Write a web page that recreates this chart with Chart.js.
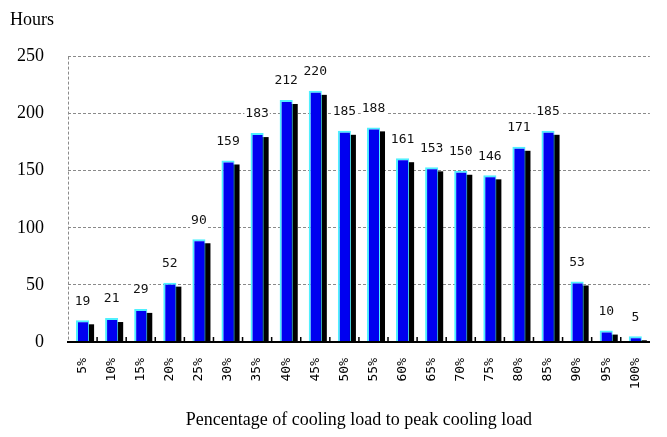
<!DOCTYPE html>
<html>
<head>
<meta charset="utf-8">
<script src="https://cdn.jsdelivr.net/npm/chart.js@4.4.1/dist/chart.umd.min.js"></script>
<style>
  html, body { margin: 0; padding: 0; background: #fff; }
  #wrap { width: 667px; height: 437px; }
</style>
</head>
<body>
<div id="wrap"><canvas id="chart-hours"></canvas></div>
<script>
const categories = ["5%", "10%", "15%", "20%", "25%", "30%", "35%", "40%", "45%", "50%",
                    "55%", "60%", "65%", "70%", "75%", "80%", "85%", "90%", "95%", "100%"];
const hours = [19, 21, 29, 52, 90, 159, 183, 212, 220, 185,
               188, 161, 153, 150, 146, 171, 185, 53, 10, 5];
const yTicks = [0, 50, 100, 150, 200, 250];

const SERIF = "'Liberation Serif', 'Times New Roman', serif";
const MONO = "'DejaVu Sans Mono', 'Liberation Mono', monospace";
const GRID = "#8a8a8a";
const SHADOW_DX = 5;
const SHADOW_DY = 4;

// ─── Plugins ──────────────────────────────────────────────────────────────────

// black block offset behind each bar (BarElement clips its own canvas shadow)
const barShadow = {
  id: "barShadow",
  beforeDatasetsDraw(chart) {
    const ctx = chart.ctx;
    const meta = chart.getDatasetMeta(0);
    ctx.save();
    ctx.fillStyle = "#000";
    meta.data.forEach((bar) => {
      const { x, y, width, base } = bar.getProps(["x", "y", "width", "base"]);
      const top = y + SHADOW_DY;
      if (base - top > 0) {
        ctx.fillRect(x - width / 2 + SHADOW_DX, top, width, base - top);
      }
    });
    ctx.restore();
  },
};

// value above each bar, on a white patch so the grid doesn't run through it
const valueLabels = {
  id: "valueLabels",
  afterDatasetsDraw(chart) {
    const ctx = chart.ctx;
    const meta = chart.getDatasetMeta(0);
    ctx.save();
    ctx.font = "13px " + MONO;
    ctx.textAlign = "center";
    ctx.textBaseline = "middle";
    meta.data.forEach((bar, i) => {
      const text = String(hours[i]);
      const w = ctx.measureText(text).width;
      const y = bar.y - 19;
      ctx.fillStyle = "#fff";
      ctx.fillRect(bar.x - w / 2 - 1, y - 8, w + 2, 16);
      ctx.fillStyle = "#111";
      ctx.fillText(text, bar.x, y);
    });
    ctx.restore();
  },
};

// short inward ticks on the x axis between categories
const innerTicks = {
  id: "innerTicks",
  afterDraw(chart) {
    const { ctx, chartArea } = chart;
    const x = chart.scales.x;
    ctx.save();
    ctx.strokeStyle = "#000";
    ctx.lineWidth = 1.5;
    ctx.beginPath();
    for (let i = 1; i < categories.length; i++) {
      const px = (x.getPixelForValue(i - 1) + x.getPixelForValue(i)) / 2;
      ctx.moveTo(px, chartArea.bottom);
      ctx.lineTo(px, chartArea.bottom - 5);
    }
    ctx.stroke();
    ctx.restore();
  },
};

// ─── Chart ────────────────────────────────────────────────────────────────────

new Chart(document.getElementById("chart-hours").getContext("2d"), {
  type: "bar",
  data: {
    labels: categories,
    datasets: [{
      data: hours,
      backgroundColor: "#0000f0",
      borderColor: "#4ff0ff",
      borderWidth: { top: 2, left: 2, right: 1, bottom: 0 },
      borderSkipped: false,
      categoryPercentage: 1,
      barPercentage: 0.45,
    }],
  },
  options: {
    responsive: true,
    maintainAspectRatio: false,
    animation: false,
    layout: { padding: { left: 10, right: 4, top: 0, bottom: 0 } },
    plugins: {
      legend: { display: false },
      tooltip: { enabled: false },
      title: {
        display: true,
        text: "Hours",
        align: "start",
        color: "#000",
        font: { family: SERIF, size: 18, weight: "normal" },
        padding: { top: 9, bottom: 26 },
      },
    },
    scales: {
      x: {
        offset: true,
        afterFit: (scale) => { scale.height = 95; },
        grid: {
          offset: true,
          drawTicks: false,
          color: (c) => (c.index === 0 ? GRID : "rgba(0,0,0,0)"),
        },
        border: { display: true, color: "#000", width: 2, dash: [3, 2], z: 1 },
        ticks: {
          color: "#000",
          font: { family: MONO, size: 13 },
          maxRotation: 90,
          minRotation: 90,
          padding: 16,
          autoSkip: false,
        },
        title: {
          display: true,
          text: "Pencentage of cooling load to peak cooling load",
          color: "#000",
          font: { family: SERIF, size: 18, weight: "normal" },
          padding: { top: 0, bottom: 6 },
        },
      },
      y: {
        min: yTicks[0],
        max: yTicks[yTicks.length - 1],
        afterFit: (scale) => { scale.width = 58; },
        afterBuildTicks: (scale) => { scale.ticks = yTicks.map((v) => ({ value: v })); },
        grid: {
          drawTicks: false,
          color: (c) => (c.tick && c.tick.value === 0 ? "rgba(0,0,0,0)" : GRID),
        },
        border: { display: false, dash: [3, 2] },
        ticks: {
          color: "#000",
          font: { family: SERIF, size: 18 },
          padding: 24,
        },
      },
    },
  },
  plugins: [barShadow, valueLabels, innerTicks],
});
</script>
</body>
</html>
